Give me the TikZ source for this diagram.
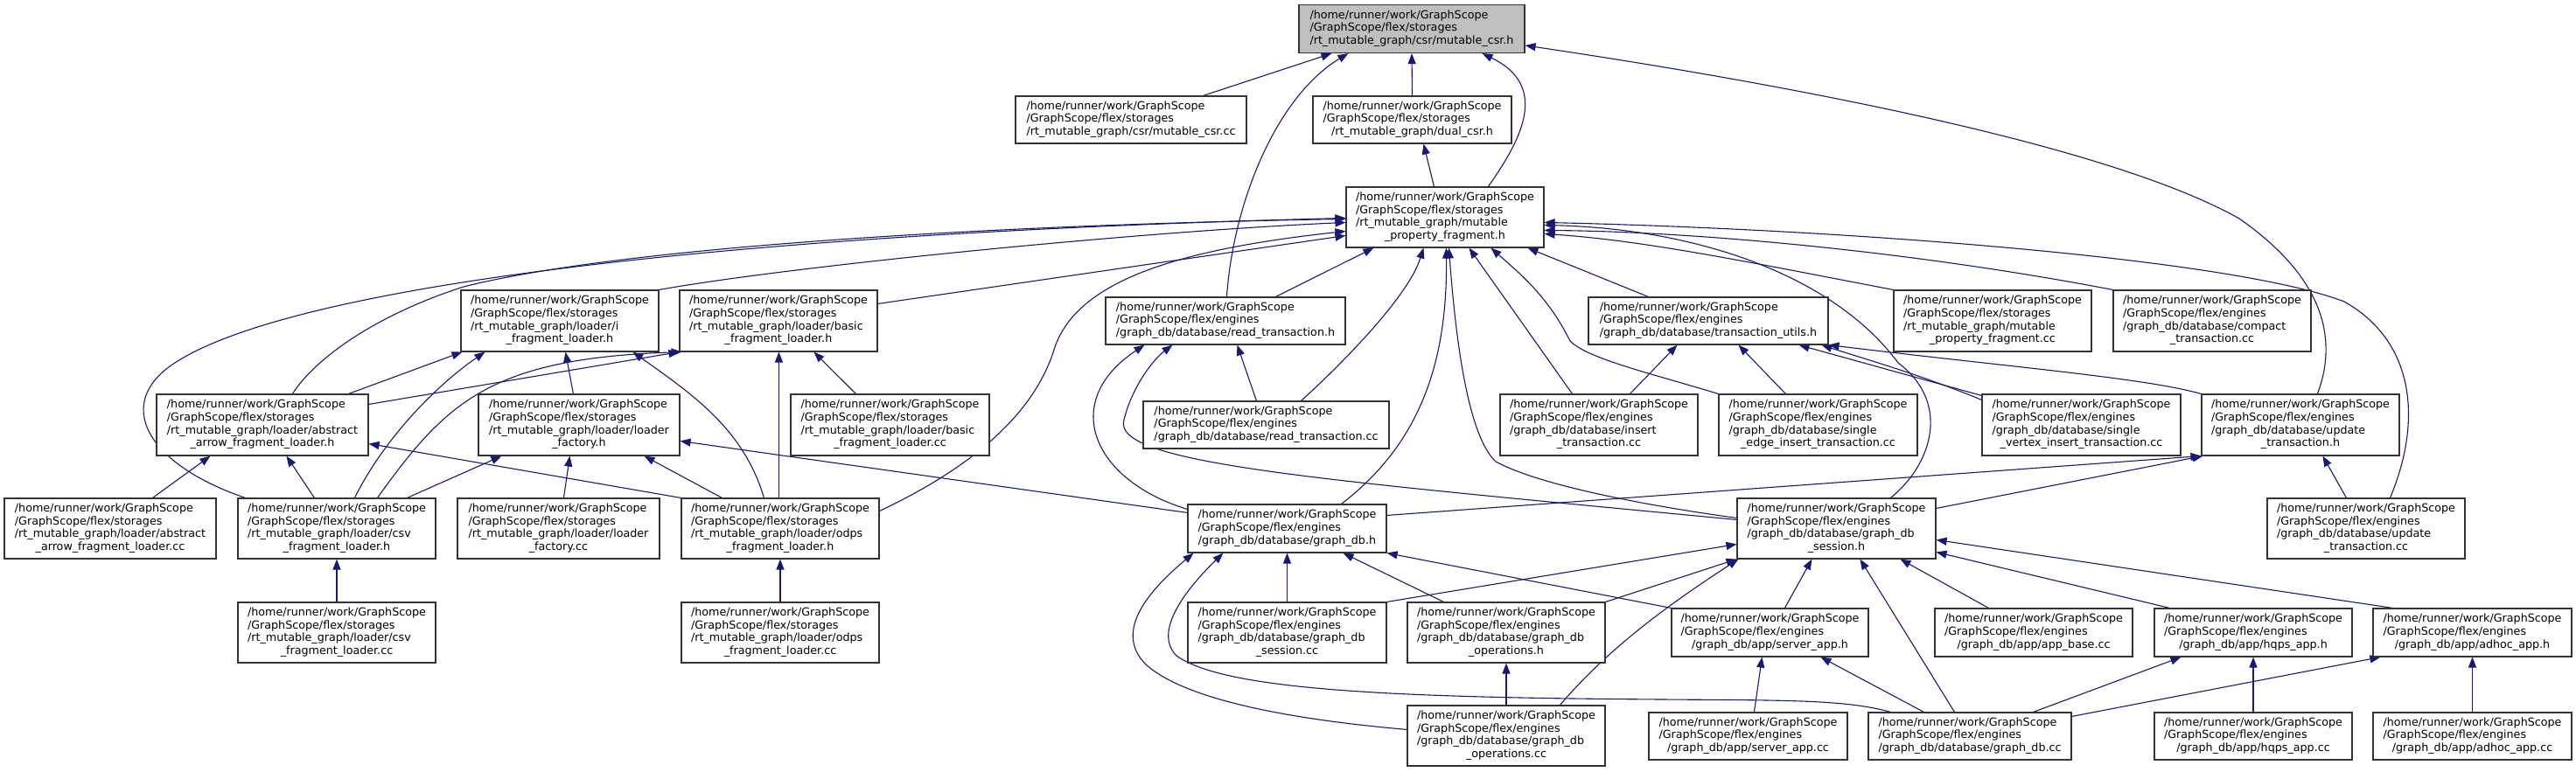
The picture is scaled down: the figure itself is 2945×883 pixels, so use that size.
\documentclass[tikz,border=0pt]{standalone}
\usepackage{fontspec}
\setmainfont{DejaVu Sans}
\usetikzlibrary{arrows.meta,backgrounds}
\definecolor{midnight}{HTML}{191970}
\definecolor{topgray}{HTML}{BFBFBF}
\definecolor{boxline}{HTML}{333333}
\newcommand{\hr}{/home/runner/work/GraphScope}
\newcommand{\gfs}{/GraphScope/flex/storages}
\newcommand{\gfe}{/GraphScope/flex/engines}
\newcommand{\lb}[2]{\begin{tabular}{@{}l@{}}#1\\\multicolumn{1}{@{}c@{}}{#2}\end{tabular}}
\tikzset{
  box/.style={draw=boxline, line width=1.1pt, fill=white, inner sep=0pt, align=center,
    font=\fontsize{12.7}{14.7}\selectfont},
  edge/.style={draw=midnight, line width=1.1pt, -{Triangle[length=12pt,width=9pt]}}
}
\begin{document}
\begin{tikzpicture}[x=1pt,y=-1pt]
\useasboundingbox (0,0) rectangle (2945,883);
% row 1-3
\node[box, fill=topgray, minimum width=258pt, minimum height=55pt] (A) at (1614,33) {\lb{\hr\\\gfs}{/rt\_mutable\_graph/csr/mutable\_csr.h}};
\node[box, minimum width=264pt, minimum height=54pt] (B) at (1293,137) {\lb{\hr\\\gfs}{/rt\_mutable\_graph/csr/mutable\_csr.cc}};
\node[box, minimum width=227pt, minimum height=54pt] (C) at (1614.5,137) {\lb{\hr\\\gfs}{/rt\_mutable\_graph/dual\_csr.h}};
\node[box, minimum width=226pt, minimum height=69pt] (D) at (1652,248.5) {\lb{\hr\\\gfs\\/rt\_mutable\_graph/mutable}{\_property\_fragment.h}};
% row 4
\node[box, minimum width=226pt, minimum height=70pt] (E) at (640,367) {\lb{\hr\\\gfs\\/rt\_mutable\_graph/loader/i}{\_fragment\_loader.h}};
\node[box, minimum width=226pt, minimum height=70pt] (F) at (890,367) {\lb{\hr\\\gfs\\/rt\_mutable\_graph/loader/basic}{\_fragment\_loader.h}};
\node[box, minimum width=274pt, minimum height=54pt] (G) at (1401,367) {\lb{\hr\\\gfe}{/graph\_db/database/read\_transaction.h}};
\node[box, minimum width=274pt, minimum height=54pt] (H) at (1953,367) {\lb{\hr\\\gfe}{/graph\_db/database/transaction\_utils.h}};
\node[box, minimum width=226pt, minimum height=70pt] (I) at (2278,367) {\lb{\hr\\\gfs\\/rt\_mutable\_graph/mutable}{\_property\_fragment.cc}};
\node[box, minimum width=226pt, minimum height=70pt] (J) at (2529,367) {\lb{\hr\\\gfe\\/graph\_db/database/compact}{\_transaction.cc}};
% row 5
\node[box, minimum width=242pt, minimum height=70pt] (K) at (300,486) {\lb{\hr\\\gfs\\/rt\_mutable\_graph/loader/abstract}{\_arrow\_fragment\_loader.h}};
\node[box, minimum width=230pt, minimum height=70pt] (L) at (662,486) {\lb{\hr\\\gfs\\/rt\_mutable\_graph/loader/loader}{\_factory.h}};
\node[box, minimum width=227pt, minimum height=70pt] (M) at (1017.5,486) {\lb{\hr\\\gfs\\/rt\_mutable\_graph/loader/basic}{\_fragment\_loader.cc}};
\node[box, minimum width=281pt, minimum height=54pt] (N) at (1447.5,486) {\lb{\hr\\\gfe}{/graph\_db/database/read\_transaction.cc}};
\node[box, minimum width=226pt, minimum height=70pt] (O) at (1828,486) {\lb{\hr\\\gfe\\/graph\_db/database/insert}{\_transaction.cc}};
\node[box, minimum width=227pt, minimum height=70pt] (P) at (2078.5,486) {\lb{\hr\\\gfe\\/graph\_db/database/single}{\_edge\_insert\_transaction.cc}};
\node[box, minimum width=227pt, minimum height=70pt] (Q) at (2379.5,486) {\lb{\hr\\\gfe\\/graph\_db/database/single}{\_vertex\_insert\_transaction.cc}};
\node[box, minimum width=226pt, minimum height=70pt] (R) at (2630,486) {\lb{\hr\\\gfe\\/graph\_db/database/update}{\_transaction.h}};
% row 6
\node[box, minimum width=242pt, minimum height=69pt] (S) at (126,604.5) {\lb{\hr\\\gfs\\/rt\_mutable\_graph/loader/abstract}{\_arrow\_fragment\_loader.cc}};
\node[box, minimum width=226pt, minimum height=69pt] (T) at (385,604.5) {\lb{\hr\\\gfs\\/rt\_mutable\_graph/loader/csv}{\_fragment\_loader.h}};
\node[box, minimum width=231pt, minimum height=69pt] (U) at (638.5,604.5) {\lb{\hr\\\gfs\\/rt\_mutable\_graph/loader/loader}{\_factory.cc}};
\node[box, minimum width=226pt, minimum height=69pt] (V) at (892,604.5) {\lb{\hr\\\gfs\\/rt\_mutable\_graph/loader/odps}{\_fragment\_loader.h}};
\node[box, minimum width=227pt, minimum height=55pt] (W) at (1471.5,604.5) {\lb{\hr\\\gfe}{/graph\_db/database/graph\_db.h}};
\node[box, minimum width=227pt, minimum height=69pt] (X) at (2099.5,604.5) {\lb{\hr\\\gfe\\/graph\_db/database/graph\_db}{\_session.h}};
\node[box, minimum width=226pt, minimum height=69pt] (Y) at (2705,604.5) {\lb{\hr\\\gfe\\/graph\_db/database/update}{\_transaction.cc}};
% row 7
\node[box, minimum width=226pt, minimum height=69pt] (Z) at (385,723.5) {\lb{\hr\\\gfs\\/rt\_mutable\_graph/loader/csv}{\_fragment\_loader.cc}};
\node[box, minimum width=226pt, minimum height=69pt] (AA) at (892,723.5) {\lb{\hr\\\gfs\\/rt\_mutable\_graph/loader/odps}{\_fragment\_loader.cc}};
\node[box, minimum width=227pt, minimum height=69pt] (AB) at (1471.5,723.5) {\lb{\hr\\\gfe\\/graph\_db/database/graph\_db}{\_session.cc}};
\node[box, minimum width=226pt, minimum height=69pt] (AC) at (1722,723.5) {\lb{\hr\\\gfe\\/graph\_db/database/graph\_db}{\_operations.h}};
\node[box, minimum width=225pt, minimum height=55pt] (AD) at (2023.5,723.5) {\lb{\hr\\\gfe}{/graph\_db/app/server\_app.h}};
\node[box, minimum width=226pt, minimum height=55pt] (AE) at (2325,723.5) {\lb{\hr\\\gfe}{/graph\_db/app/app\_base.cc}};
\node[box, minimum width=226pt, minimum height=55pt] (AF) at (2576,723.5) {\lb{\hr\\\gfe}{/graph\_db/app/hqps\_app.h}};
\node[box, minimum width=227pt, minimum height=55pt] (AG) at (2826.5,723.5) {\lb{\hr\\\gfe}{/graph\_db/app/adhoc\_app.h}};
% row 8
\node[box, minimum width=226pt, minimum height=69pt] (AH) at (1722,841.5) {\lb{\hr\\\gfe\\/graph\_db/database/graph\_db}{\_operations.cc}};
\node[box, minimum width=227pt, minimum height=54pt] (AI) at (1998.5,842) {\lb{\hr\\\gfe}{/graph\_db/app/server\_app.cc}};
\node[box, minimum width=232pt, minimum height=54pt] (AJ) at (2252,842) {\lb{\hr\\\gfe}{/graph\_db/database/graph\_db.cc}};
\node[box, minimum width=226pt, minimum height=54pt] (AK) at (2576,842) {\lb{\hr\\\gfe}{/graph\_db/app/hqps\_app.cc}};
\node[box, minimum width=227pt, minimum height=54pt] (AL) at (2826.5,842) {\lb{\hr\\\gfe}{/graph\_db/app/adhoc\_app.cc}};

\begin{pgfonlayer}{background}
\fill[white] (0,0) rectangle (2945,883);
% into A
\draw[edge] ([xshift=215pt]B.north west) -- ([xshift=38pt]A.south west);
\draw[edge] ([xshift=139pt]G.north west) .. controls (1410,230) and (1460,110) .. ([xshift=57pt]A.south west);
\draw[edge] (C.north) -- (A.south);
\draw[edge] ([xshift=163pt]D.north west) .. controls (1735,165) and (1775,100) .. ([xshift=210pt]A.south west);
\draw[edge] ([xshift=133pt]R.north west) .. controls (2672,390) and (2660,320) .. (2560,250) .. controls (2400,160) and (2000,90) .. ([yshift=-47pt]A.north east);
% into C
\draw[edge] ([xshift=101pt]D.north west) -- ([xshift=127pt]C.south west);
% into D
\draw[edge] ([xshift=195pt]G.north west) -- ([xshift=32pt]D.south west);
\draw[edge] (E.north east) .. controls (900,305) and (1300,265) .. ([yshift=-41pt]D.north west);
\draw[edge] ([yshift=-16pt]F.north east) -- ([yshift=-56pt]D.north west);
\draw[edge] ([xshift=9pt]T.north west) .. controls (165,530) and (130,460) .. (200,415) .. controls (330,330) and (800,268) .. ([yshift=-36pt]D.north west);
\draw[edge] ([xshift=156pt]K.north west) .. controls (360,410) and (430,360) .. (530,328) .. controls (700,285) and (1100,258) .. ([yshift=-37pt]D.north west);
\draw[edge] ([yshift=-15pt]V.north east) .. controls (1100,540) and (1180,480) .. (1205,400) .. controls (1230,320) and (1350,285) .. ([yshift=-51pt]D.north west);
\draw[edge] ([xshift=69pt]H.north west) -- ([xshift=208pt]D.south west);
\draw[edge] ([xshift=181pt]N.north west) .. controls (1530,420) and (1610,340) .. ([xshift=89pt]D.south west);
\draw[edge] ([xshift=176pt]W.north west) .. controls (1620,510) and (1655,420) .. ([xshift=115pt]D.south west);
\draw[edge] ([yshift=-23pt]X.north west) .. controls (1880,578) and (1760,555) .. (1710,528) .. controls (1680,500) and (1665,400) .. ([xshift=118pt]D.south west);
\draw[edge] ([xshift=176pt]X.north west) .. controls (2210,530) and (2230,460) .. (2170,415) .. controls (2100,320) and (1950,262) .. ([yshift=-44pt]D.north east);
\draw[edge] ([xshift=83pt]O.north west) -- ([xshift=141pt]D.south west);
\draw[edge] (P.north west) .. controls (1880,425) and (1815,410) .. (1795,390) .. controls (1770,340) and (1740,315) .. ([xshift=166pt]D.south west);
\draw[edge] (I.north west) .. controls (2000,300) and (1880,275) .. ([yshift=-54pt]D.north east);
\draw[edge] (J.north west) .. controls (2200,290) and (1950,265) .. ([yshift=-50pt]D.north east);
\draw[edge] ([xshift=141pt]Y.north west) .. controls (2770,480) and (2760,390) .. (2680,345) .. controls (2550,295) and (2100,262) .. ([yshift=-41pt]D.north east);
% into E
\draw[edge] ([xshift=220pt]K.north west) -- ([xshift=2pt]E.south west);
\draw[edge] ([xshift=134pt]T.north west) .. controls (440,500) and (500,440) .. ([xshift=28pt]E.south west);
\draw[edge] ([xshift=109pt]L.north west) -- ([xshift=120pt]E.south west);
\draw[edge] ([xshift=95pt]V.north west) .. controls (850,490) and (790,450) .. ([xshift=197pt]E.south west);
% into F
\draw[edge] ([yshift=-12pt]K.north east) -- (F.south west);
\draw[edge] ([xshift=160pt]T.north west) .. controls (510,460) and (560,410) .. ([xshift=3pt]F.south west);
\draw[edge] ([xshift=112pt]V.north west) -- ([xshift=114pt]F.south west);
\draw[edge] ([xshift=75pt]M.north west) -- ([xshift=154pt]F.south west);
% into K
\draw[edge] ([xshift=170pt]S.north west) -- ([xshift=62pt]K.south west);
\draw[edge] ([xshift=88pt]T.north west) -- ([xshift=149pt]K.south west);
\draw[edge] (V.north west) -- ([yshift=-57pt]K.north east);
% into L
\draw[edge] ([xshift=194pt]T.north west) -- ([xshift=27pt]L.south west);
\draw[edge] ([xshift=122pt]U.north west) -- ([xshift=105pt]L.south west);
\draw[edge] ([xshift=47pt]V.north west) -- ([xshift=190pt]L.south west);
\draw[edge] ([yshift=-10pt]W.north west) -- ([yshift=-54pt]L.north east);
% into T, V
\draw[edge] (Z.north) -- (T.south);
\draw[edge] (AA.north) -- (V.south);
% into G
\draw[edge] ([xshift=130pt]N.north west) -- ([xshift=151pt]G.south west);
\draw[edge] ([yshift=-6pt]W.north west) .. controls (1250,550) and (1210,460) .. ([xshift=45pt]G.south west);
\draw[edge] ([yshift=-25pt]X.north west) .. controls (1500,548) and (1270,530) .. (1285,480) .. controls (1295,440) and (1320,410) .. ([xshift=77pt]G.south west);
% into H
\draw[edge] ([xshift=149pt]O.north west) -- ([xshift=102pt]H.south west);
\draw[edge] ([xshift=77pt]P.north west) -- ([xshift=172pt]H.south west);
\draw[edge] ([yshift=-2pt]Q.north west) -- ([xshift=241pt]H.south west);
\draw[edge] ([yshift=-7pt]Q.north west) .. controls (2200,430) and (2130,410) .. ([xshift=267pt]H.south west);
\draw[edge] (R.north west) .. controls (2450,432) and (2300,420) .. (H.south east);
% into R
\draw[edge] ([yshift=-13pt]W.north east) -- (R.south west);
\draw[edge] ([yshift=-12pt]X.north east) -- ([xshift=2pt]R.south west);
\draw[edge] ([xshift=91pt]Y.north west) -- ([xshift=139pt]R.south west);
% into W
\draw[edge] (AB.north) -- (W.south);
\draw[edge] ([xshift=42pt]AC.north west) -- ([xshift=178pt]W.south west);
\draw[edge] (AD.north west) -- (W.south east);
\draw[edge] ([yshift=-28pt]AH.north west) .. controls (1500,825) and (1360,805) .. (1310,760) .. controls (1270,720) and (1320,670) .. ([xshift=7pt]W.south west);
\draw[edge] ([xshift=26pt]AJ.north west) .. controls (2110,800) and (2040,801) .. (1900,800) .. controls (1600,798) and (1400,790) .. (1345,750) .. controls (1315,720) and (1365,665) .. ([xshift=41pt]W.south west);
% into X
\draw[edge] (AB.north east) -- ([yshift=-53pt]X.north west);
\draw[edge] (AC.north east) -- (X.south west);
\draw[edge] ([xshift=175pt]AH.north west) .. controls (1840,740) and (1910,690) .. ([xshift=2pt]X.south west);
\draw[edge] ([xshift=130pt]AD.north west) -- ([xshift=86pt]X.south west);
\draw[edge] ([xshift=99pt]AJ.north west) -- ([xshift=141pt]X.south west);
\draw[edge] ([xshift=62pt]AE.north west) -- ([xshift=187pt]X.south west);
\draw[edge] ([xshift=18pt]AF.north west) -- ([yshift=-62pt]X.north east);
\draw[edge] ([xshift=23pt]AG.north west) -- ([yshift=-48pt]X.north east);
% into AD, AF, AG, AC
\draw[edge] ([xshift=121pt]AI.north west) -- ([xshift=104pt]AD.south west);
\draw[edge] ([xshift=64pt]AJ.north west) -- ([xshift=171pt]AD.south west);
\draw[edge] ([xshift=189pt]AJ.north west) -- ([xshift=31pt]AF.south west);
\draw[edge] (AK.north) -- (AF.south);
\draw[edge] ([yshift=-5pt]AJ.north east) -- ([xshift=9pt]AG.south west);
\draw[edge] (AL.north) -- (AG.south);
\draw[edge] (AH.north) -- (AC.south);
\end{pgfonlayer}
\end{tikzpicture}
\end{document}
